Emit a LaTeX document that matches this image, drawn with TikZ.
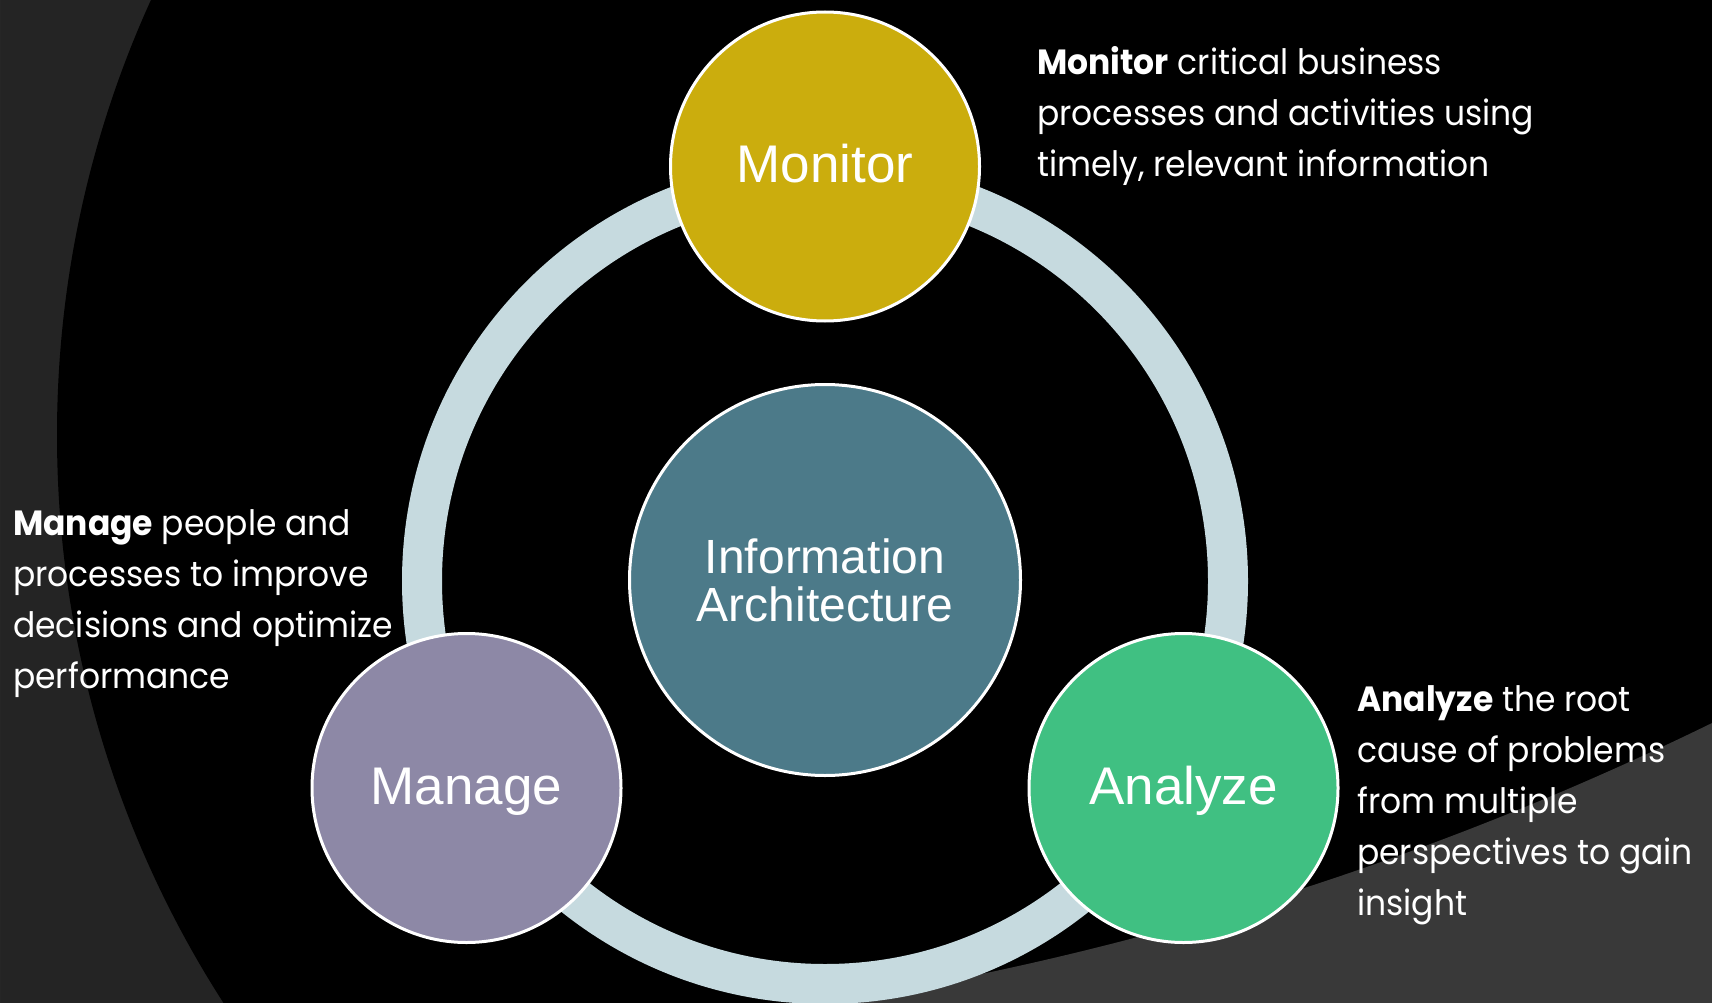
\documentclass[tikz,border=0pt]{standalone}
\usepackage{fontspec}
\setmainfont{Liberation Sans}
\newfontfamily\descfont{Poppins}[FakeStretch=0.942]
\definecolor{bgleft}{RGB}{36,36,36}
\definecolor{bgright}{RGB}{57,57,57}
\definecolor{ringc}{RGB}{198,218,223}
\definecolor{monc}{RGB}{203,173,13}
\definecolor{iac}{RGB}{76,122,137}
\definecolor{manc}{RGB}{141,136,166}
\definecolor{anac}{RGB}{64,192,130}
\begin{document}
\begin{tikzpicture}[x=1pt,y=-1pt,
  circ/.style={circle, draw=white, line width=3pt, text=white, inner sep=0pt},
  bubble/.style={circ, minimum size=309pt, font=\fontsize{53}{60}\selectfont, text height=38pt, text depth=6pt},
  desc/.style={anchor=base west, inner sep=0pt, text=white, font=\descfont\fontsize{35}{51}\selectfont}]
\useasboundingbox (0,0) rectangle (1712,1003);
\clip (0,0) rectangle (1712,1003);
% background
\fill[bgleft] (0,0) rectangle (1712,1003);
\fill[black] (1108,435) circle[radius=1051pt];
\fill[bgright, even odd rule] (0,0) rectangle (1712,1003) (333,-2101) circle[radius=3142pt];
% ring
\draw[ringc, line width=40pt] (825,581) circle[radius=403pt];
% circles
\node[circ, fill=iac, minimum size=391pt, align=center, font=\fontsize{48}{48}\selectfont] (ia) at (825,580) {Information\\Architecture};
\node[bubble, fill=monc] (monitor) at (825,166.5) {Monitor};
\node[bubble, fill=manc] (manage) at (466.5,788) {Manage};
\node[bubble, fill=anac] (analyze) at (1183.5,788) {Analyze};
% descriptions
\node[desc] (monitortxt) at (1037,75) {\vtop{\hbox{\textbf{Monitor} critical business}\hbox{processes and activities using}\hbox{timely, relevant information}}};
\node[desc] (managetxt) at (13,535) {\vtop{\hbox{\textbf{Manage} people and}\hbox{processes to improve}\hbox{decisions and optimize}\hbox{performance}}};
\node[desc] (analyzetxt) at (1357,711) {\vtop{\hbox{\textbf{Analyze} the root}\hbox{cause of problems}\hbox{from multiple}\hbox{perspectives to gain}\hbox{insight}}};
\end{tikzpicture}
\end{document}
